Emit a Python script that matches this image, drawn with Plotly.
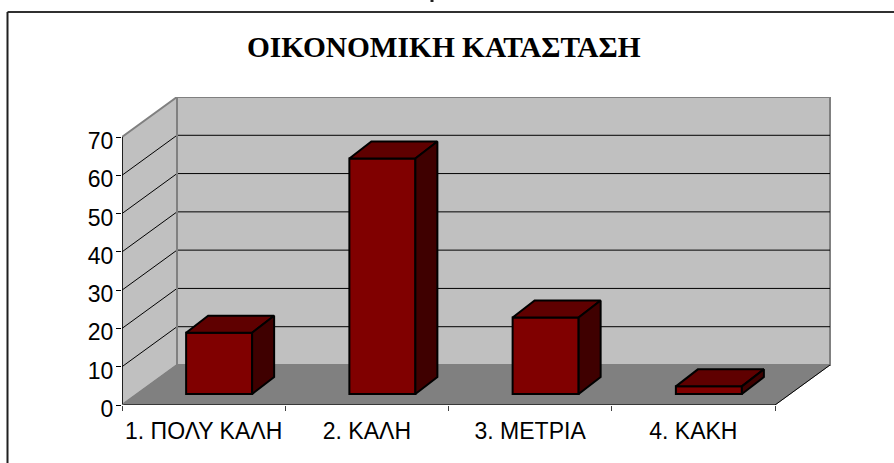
import plotly.graph_objects as go

categories = ["1. ΠΟΛΥ ΚΑΛΗ", "2. ΚΑΛΗ", "3. ΜΕΤΡΙΑ", "4. ΚΑΚΗ"]
values = [16, 61.5, 20, 2]
y_ticks = [0, 10, 20, 30, 40, 50, 60, 70]
title_text = "ΟΙΚΟΝΟΜΙΚΗ ΚΑΤΑΣΤΑΣΗ"

W, H = 894, 463
L, R, T, B = 122, 831, 97, 405           # plot area in pixels
PX_X = 163.25                            # pixels per category
PX_Y = 268 / 70                          # pixels per value unit
DX = 55 / PX_X                           # wall depth in axis units
DY = 40 / PX_Y
X0, X1 = -0.5, 3.5
YMAX = 70

BAR_W = 66 / PX_X
BAR_SHIFT = 15.5 / PX_X
BAR_BASE = 11 / PX_Y
BAR_DX = 22 / PX_X
BAR_DY = 17 / PX_Y

x_range = [X0, X0 + (R - L) / PX_X]
y_range = [0, (B - T) / PX_Y]


def path(points):
    return "M " + " L ".join(f"{x:.4f},{y:.4f}" for x, y in points) + " Z"


def poly(points, fill, line="#808080", width=2):
    return dict(type="path", xref="x", yref="y", layer="below", path=path(points),
                fillcolor=fill, line=dict(color=line, width=width))


def seg(points, color, width=1):
    return dict(type="path", xref="x", yref="y", layer="below",
                path="M " + " L ".join(f"{x:.4f},{y:.4f}" for x, y in points),
                line=dict(color=color, width=width))


def px_x(p):
    return (p - L) / (R - L)


def px_y(p):
    return (B - p) / (B - T)


shapes = [
    poly([(X0 + DX, DY), (X1 + DX, DY), (X1 + DX, YMAX + DY), (X0 + DX, YMAX + DY)], "#C0C0C0"),
    poly([(X0, 0), (X0 + DX, DY), (X0 + DX, YMAX + DY), (X0, YMAX)], "#C0C0C0"),
    poly([(X0, 0), (X1, 0), (X1 + DX, DY), (X0 + DX, DY)], "#808080", "#808080", 1),
]
for v in y_ticks[1:-1]:
    shapes.append(seg([(X0, v), (X0 + DX, v + DY), (X1 + DX, v + DY)], "#000000", 1))
shapes += [
    seg([(X0 + DX, DY), (X0 + DX, YMAX + DY)], "#808080", 2),
    seg([(X1, 0), (X1 + DX, DY)], "#000000", 1),
    seg([(X0, 0), (X1, 0)], "#202020", 1.5),
    seg([(X0, 0), (X0, YMAX)], "#000000", 1.5),
    seg([(X0, 0), (X0 + DX, DY)], "#808080", 1),
    # outer frame, cut off by the picture on the right and at the bottom
    dict(type="line", xref="paper", yref="paper",
         x0=px_x(7.5), x1=px_x(W), y0=px_y(12), y1=px_y(12),
         layer="above", line=dict(color="#303030", width=2)),
    dict(type="line", xref="paper", yref="paper",
         x0=px_x(7.5), x1=px_x(7.5), y0=px_y(12), y1=px_y(H),
         layer="above", line=dict(color="#202020", width=2)),
    # sliver of cropped text at the very top of the picture
    dict(type="line", xref="paper", yref="paper",
         x0=px_x(432), x1=px_x(432), y0=px_y(0), y1=px_y(2),
         layer="above", line=dict(color="#202020", width=3)),
]

xs = [i + BAR_SHIFT for i in range(len(values))]
fig = go.Figure()
fig.add_trace(go.Bar(x=xs, y=values, base=[BAR_BASE] * len(values), width=BAR_W,
                     marker=dict(color="#800000", line=dict(color="#000000", width=2)),
                     hoverinfo="skip", showlegend=False))
for x, v in zip(xs, values):
    xl, xr = x - BAR_W / 2, x + BAR_W / 2
    yb, yt = BAR_BASE, BAR_BASE + v
    top_x = [xl, xr, xr + BAR_DX, xl + BAR_DX, xl]
    top_y = [yt, yt, yt + BAR_DY, yt + BAR_DY, yt]
    side_x = [xr, xr + BAR_DX, xr + BAR_DX, xr, xr]
    side_y = [yb, yb + BAR_DY, yt + BAR_DY, yt, yb]
    for px, py, col in [(top_x, top_y, "#5F0000"), (side_x, side_y, "#3F0000")]:
        fig.add_trace(go.Scatter(x=px, y=py, mode="lines", fill="toself", fillcolor=col,
                                 line=dict(color="#000000", width=2),
                                 hoverinfo="skip", showlegend=False))

fig.update_layout(
    width=W, height=H, autosize=False,
    margin=dict(l=L, r=W - R, t=T, b=H - B, pad=0),
    paper_bgcolor="#FFFFFF", plot_bgcolor="#FFFFFF",
    font=dict(family="Liberation Sans, Arial, sans-serif", size=20, color="#000000"),
    shapes=shapes,
    annotations=[dict(text=f"<b>{title_text}</b>", xref="paper", yref="paper",
                      x=px_x(443.5), y=px_y(47),
                      xanchor="center", yanchor="middle", showarrow=False,
                      font=dict(family="Liberation Serif, Times New Roman, serif",
                                size=29.4, color="#000000"))],
    xaxis=dict(range=x_range, showgrid=False, zeroline=False, showline=False,
               tickmode="array", tickvals=list(range(len(categories))), ticktext=categories,
               ticks="outside", ticklen=5, tickcolor="rgba(0,0,0,0)",
               minor=dict(tickmode="array", tickvals=[X0, 0.5, 1.5, 2.5, X1],
                          ticks="outside", ticklen=5, tickcolor="#404040", tickwidth=1),
               tickfont=dict(size=23)),
    yaxis=dict(range=y_range, showgrid=False, zeroline=False, showline=False,
               tickmode="array", tickvals=y_ticks,
               ticks="outside", ticklen=5, tickcolor="#000000", tickwidth=1,
               ticklabelshift=4, ticklabelstandoff=-2,
               tickfont=dict(size=23)),
)
fig.write_html("out.html", config=dict(displayModeBar=False),
               post_script="document.body.style.margin='0';document.body.style.overflow='hidden';")
